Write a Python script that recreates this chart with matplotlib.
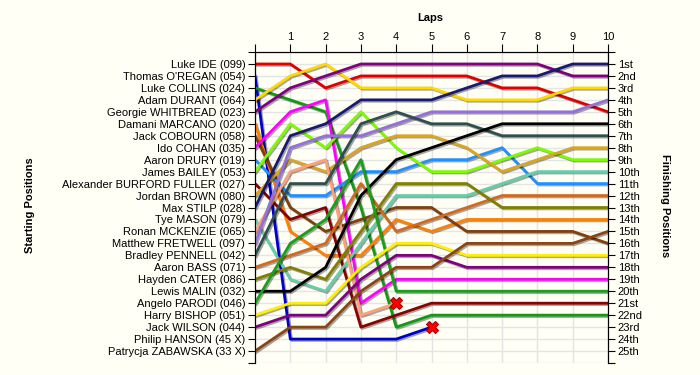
import matplotlib
matplotlib.use('Agg')
import matplotlib.pyplot as plt
import matplotlib.patheffects as pe

plt.rcParams['font.family'] = ['Liberation Sans', 'DejaVu Sans']

# laps 0..10 (0 = grid)
laps = list(range(11))
lap_labels = ['', '1', '2', '3', '4', '5', '6', '7', '8', '9', '10']

drivers = [
    "Luke IDE (099)", "Thomas O'REGAN (054)", "Luke COLLINS (024)", "Adam DURANT (064)",
    "Georgie WHITBREAD (023)", "Damani MARCANO (020)", "Jack COBOURN (058)", "Ido COHAN (035)",
    "Aaron DRURY (019)", "James BAILEY (053)", "Alexander BURFORD FULLER (027)",
    "Jordan BROWN (080)", "Max STILP (028)", "Tye MASON (079)", "Ronan MCKENZIE (065)",
    "Matthew FRETWELL (097)", "Bradley PENNELL (042)", "Aaron BASS (071)",
    "Hayden CATER (086)", "Lewis MALIN (032)", "Angelo PARODI (046)", "Harry BISHOP (051)",
    "Jack WILSON (044)", "Philip HANSON (45 X)", "Patrycja ZABAWSKA (33 X)",
]

finish_labels = ['1st', '2nd', '3rd', '4th', '5th', '6th', '7th', '8th', '9th', '10th',
                 '11th', '12th', '13th', '14th', '15th', '16th', '17th', '18th', '19th',
                 '20th', '21st', '22nd', '23rd', '24th', '25th']

# position of each driver at the end of every lap
ide = [1, 1, 3, 2, 2, 2, 2, 3, 3, 4, 5]
oregan = [2, 24, 24, 24, 24, 23]
collins = [3, 4, 5, 13, 23, 22, 22, 22, 22, 22, 22]
durant = [4, 2, 1, 3, 3, 3, 4, 4, 4, 3, 3]
whitbread = [5, 3, 2, 1, 1, 1, 1, 1, 1, 2, 2]
marcano = [6, 15, 17, 17, 14, 15, 14, 14, 14, 14, 14]
cobourn = [7, 13, 15, 14, 13, 13, 15, 15, 15, 15, 16]
cohan = [8, 5, 4, 21, 19, 19, 19, 19, 19, 19, 19]
drury = [9, 12, 12, 10, 10, 9, 9, 8, 11, 11, 11]
bailey = [10, 6, 8, 5, 8, 10, 10, 9, 8, 9, 9]
burford_fuller = [11, 14, 13, 23, 22, 21, 21, 21, 21, 21, 21]
brown = [12, 9, 10, 8, 7, 7, 8, 10, 9, 8, 8]
stilp = [13, 7, 6, 4, 4, 4, 3, 2, 2, 1, 1]
mason = [14, 19, 20, 16, 12, 12, 12, 11, 10, 10, 10]
mckenzie = [15, 10, 9, 22, 21]
fretwell = [16, 8, 7, 7, 6, 5, 5, 5, 5, 5, 4]
pennell = [17, 11, 11, 6, 5, 6, 6, 7, 7, 7, 7]
bass = [18, 17, 16, 11, 15, 14, 13, 12, 12, 12, 12]
cater = [19, 18, 19, 15, 11, 11, 11, 13, 13, 13, 13]
malin = [20, 20, 18, 12, 9, 8, 7, 6, 6, 6, 6]
parodi = [21, 16, 14, 9, 20, 20, 20, 20, 20, 20, 20]
bishop = [22, 21, 21, 18, 16, 16, 17, 17, 17, 17, 17]
wilson = [23, 22, 22, 19, 17, 17, 18, 18, 18, 18, 18]
hanson = []
zabawska = [25, 23, 23, 20, 18, 18, 16, 16, 16, 16, 15]

positions = [ide, oregan, collins, durant, whitbread, marcano, cobourn, cohan, drury,
             bailey, burford_fuller, brown, stilp, mason, mckenzie, fretwell, pennell,
             bass, cater, malin, parodi, bishop, wilson, hanson, zabawska]

colors = ['#E00000', '#0000CC', '#139A13', '#FFD800', '#800080', '#FF8000', '#80400F',
          '#FF00FF', '#1E90FF', '#7CFC00', '#8B0000', '#DAA520', '#191970', '#66CDAA',
          '#FFA07A', '#9370DB', '#2F4F4F', '#D2691E', '#808000', '#000000', '#18A018',
          '#FFF000', '#800080', '#888888', '#8B4513']

retired = [oregan, mckenzie]

bg = '#FFFFF6'
fig = plt.figure(figsize=(7, 3.75), dpi=100, facecolor=bg)
ax = fig.add_axes([0.3643, 0.032, 0.5043, 0.8293])
ax.set_facecolor(bg)

shadow = [pe.SimpleLineShadow(offset=(1, -1), shadow_color='black', alpha=0.35), pe.Normal()]
for pos, col in zip(positions, colors):
    if not pos:
        continue
    ax.plot(laps[:len(pos)], pos, color=col, lw=2.0, zorder=3, path_effects=shadow)

for pos in retired:
    ax.plot(len(pos) - 1, pos[-1], marker='X', ms=8, color='red', mec='#AA0000', mew=0.8, zorder=5)

ax.set_xlim(0, 10)
ax.set_ylim(26, 0)
ax.xaxis.tick_top()
ax.set_xticks(laps)
ax.set_xticklabels(lap_labels)
ax.set_yticks(range(27))
ax.set_yticklabels([''] + drivers + [''])
ax.grid(True, color='#E4E4E4', lw=1, zorder=0)
ax.spines['bottom'].set_visible(False)
ax.tick_params(axis='y', length=5, pad=2, labelsize=8)
ax.tick_params(axis='x', length=6, pad=1, labelsize=8)

ax2 = ax.twinx()
ax2.set_ylim(26, 0)
ax2.set_yticks(range(27))
ax2.set_yticklabels([''] + finish_labels + [''])
ax2.spines['bottom'].set_visible(False)
ax2.tick_params(axis='y', length=5, pad=2, labelsize=8)

fig.text(0.615, 0.952, 'Laps', ha='center', va='center', fontsize=8, fontweight='bold')
fig.text(0.043, 0.453, 'Starting Positions', ha='center', va='center', rotation=90,
         fontsize=8, fontweight='bold')
fig.text(0.95, 0.453, 'Finishing Positions', ha='center', va='center', rotation=-90,
         fontsize=8, fontweight='bold')

fig.savefig('out.png', dpi=100, facecolor=bg)
